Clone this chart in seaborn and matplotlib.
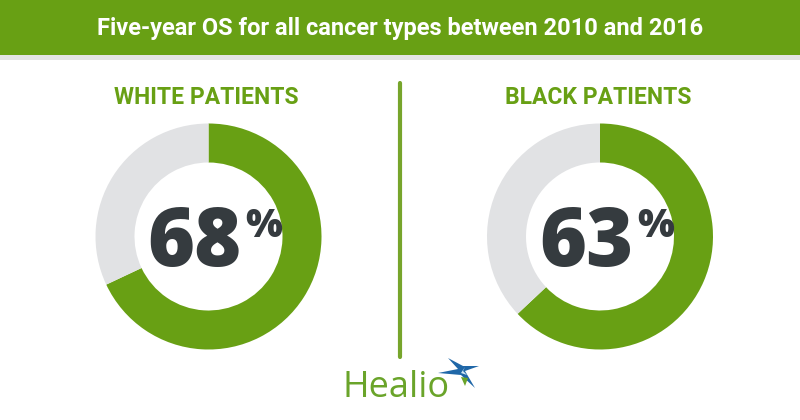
import matplotlib
matplotlib.use("Agg")
import matplotlib.pyplot as plt
import seaborn as sns
from matplotlib.patches import Rectangle, Polygon

sns.set_theme(style="white")
plt.rcParams['font.family'] = ['Roboto', 'DejaVu Sans']

# ---- data ----
title = "Five-year OS for all cancer types between 2010 and 2016"
groups = ["WHITE PATIENTS", "BLACK PATIENTS"]
survival = [68, 63]          # percent
brand = "Healio"

GREEN = "#68a014"
GRAY = "#e1e2e4"
DARK = "#353b3f"

W, H = 800, 420
fig = plt.figure(figsize=(W / 100, H / 100), dpi=100)
fig.patch.set_facecolor("white")

def fy(px):
    return 1 - px / H

# title bar
fig.patches.append(Rectangle((0, fy(55)), 1, 55 / H, transform=fig.transFigure,
                             facecolor=GREEN, edgecolor="none", zorder=0))
fig.patches.append(Rectangle((0, fy(60)), 1, 5 / H, transform=fig.transFigure,
                             facecolor="#e4e4e4", edgecolor="none", zorder=0))

fig.text(0.5, fy(29), title, ha="center", va="center", color="white",
         fontsize=17, fontweight="bold", family=['Roboto'])

# divider
fig.add_artist(plt.Line2D([0.5, 0.5], [fy(83), fy(357)], transform=fig.transFigure,
                          color="#77a52c", linewidth=3))

centers_x = [208.5, 600]
cy = 236.5
R = 113
for gname, val, cx in zip(groups, survival, centers_x):
    ax = fig.add_axes([(cx - R) / W, (H - cy - R) / H, 2 * R / W, 2 * R / H])
    ax.pie([val, 100 - val], colors=[GREEN, GRAY], startangle=90, counterclock=False,
           radius=1, wedgeprops=dict(width=39 / R, edgecolor="none"))
    ax.set_xlim(-1, 1)
    ax.set_ylim(-1, 1)
    ax.set_aspect("equal")
    ax.axis("off")
    fig.text((cx - 2) / W, fy(98), gname, ha="center", va="center", color=GREEN,
             fontsize=16.5, fontweight="bold", family=['Roboto'])
    fig.text((cx + 33) / W, fy(266), f"{val}", ha="right", va="baseline", color=DARK,
             fontsize=58, fontweight=800, family=['Open Sans'])
    fig.text((cx + 37) / W, fy(207), "%", ha="left", va="top", color=DARK,
             fontsize=28, fontweight=800, family=['Open Sans'])

# logo
fig.text(343 / W, fy(397), brand, ha="left", va="baseline", color="#6aa42a",
         fontsize=26, family=['Open Sans'])
sx, sy = 462, 372
star = [(sx + 17, sy - 6), (sx + 3, sy - 1), (sx + 13, sy + 16), (sx - 1, sy + 3),
        (sx - 24, sy + 1), (sx - 4, sy - 3), (sx - 14, sy - 14), (sx + 1, sy - 6)]
fig.patches.append(Polygon([(x / W, fy(y)) for x, y in star], closed=True,
                           transform=fig.transFigure, facecolor="#1f67a8",
                           edgecolor="none"))
leaf = [(sx - 1, sy + 5), (sx + 6, sy + 6), (sx + 3, sy + 14)]
fig.patches.append(Polygon([(x / W, fy(y)) for x, y in leaf], closed=True,
                           transform=fig.transFigure, facecolor="#6aa42a",
                           edgecolor="none"))
inner = [(sx + 3, sy - 5), (sx + 1, sy - 1), (sx + 5, sy + 3), (sx - 1, sy + 1)]
fig.patches.append(Polygon([(x / W, fy(y)) for x, y in inner], closed=True,
                           transform=fig.transFigure, facecolor="#cfe6f5",
                           edgecolor="none"))

fig.savefig("out.png", dpi=100, facecolor="white")
